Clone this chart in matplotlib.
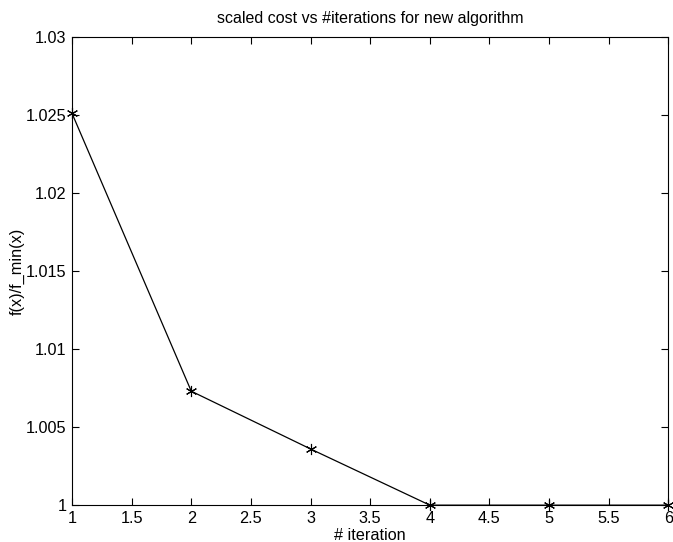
import matplotlib.pyplot as plt

iterations = [1, 2, 3, 4, 5, 6]
scaled_cost = [1.0251, 1.0073, 1.0036, 1.0, 1.0, 1.0]
x_ticks = [1, 1.5, 2, 2.5, 3, 3.5, 4, 4.5, 5, 5.5, 6]
y_ticks = [1, 1.005, 1.01, 1.015, 1.02, 1.025, 1.03]

plt.rcParams['font.family'] = ['Liberation Sans', 'DejaVu Sans']

fig = plt.figure(figsize=(6.73, 5.42), dpi=100)
ax = fig.add_axes([0.107, 0.068, 0.886, 0.864])

ax.plot(iterations, scaled_cost, color="black", linewidth=0.9,
        marker=(6, 2, 0), markersize=8, markeredgewidth=0.8, clip_on=False)

ax.set_xlim(1, 6)
ax.set_ylim(1, 1.03)
ax.set_xticks(x_ticks)
ax.set_xticklabels([f"{t:g}" for t in x_ticks])
ax.set_yticks(y_ticks)
ax.set_yticklabels([f"{t:g}" for t in y_ticks])
ax.tick_params(direction="in", top=True, right=True, length=5, width=0.8,
               labelsize=11.7, pad=4)
for s in ax.spines.values():
    s.set_linewidth(0.8)

ax.set_title("scaled cost vs #iterations for new algorithm", fontsize=11.5, pad=10)
ax.set_xlabel("# iteration", fontsize=11.7, labelpad=1.5)
ax.set_ylabel("f(x)/f_min(x)", fontsize=11.7, labelpad=1)

fig.savefig("out.png", dpi=100)
